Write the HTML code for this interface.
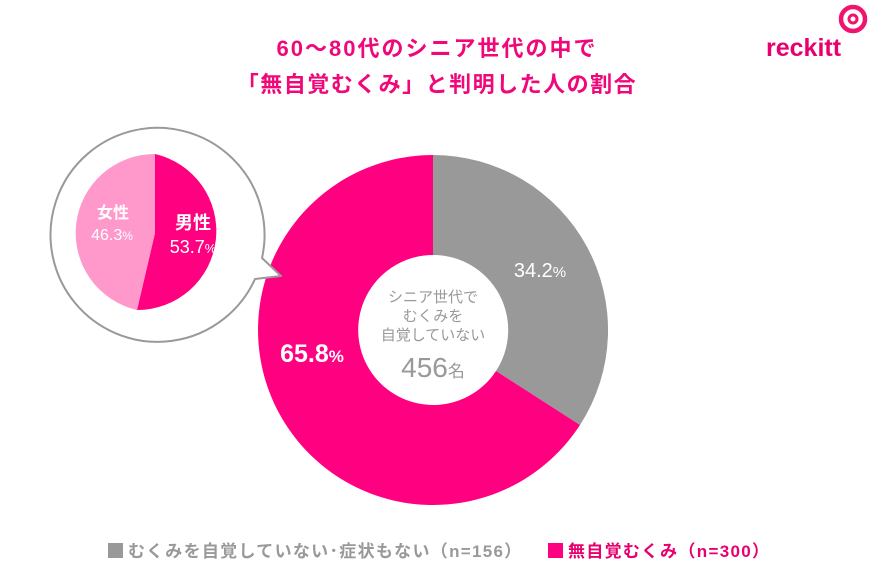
<!DOCTYPE html>
<html><head><meta charset="utf-8"><style>
body{margin:0;width:875px;height:566px;background:#fff;overflow:hidden;font-family:"Liberation Sans","Noto Sans CJK JP",sans-serif;}
</style></head><body>
<svg width="875" height="566" viewBox="0 0 875 566" xmlns="http://www.w3.org/2000/svg" font-family="Liberation Sans, Noto Sans CJK JP, sans-serif">
<text x="437" y="56" text-anchor="middle" font-size="22" font-weight="bold" fill="#f0087a" letter-spacing="2">60～80代のシニア世代の中で</text>
<text x="437" y="92" text-anchor="middle" font-size="22" font-weight="bold" fill="#f0087a" letter-spacing="1.5">「無自覚むくみ」と判明した人の割合</text>
<!-- logo -->
<text x="766" y="56" font-size="25" font-weight="bold" fill="#e8006f">reckitt</text>
<circle cx="853" cy="19" r="12" fill="none" stroke="#f0146e" stroke-width="4.5"/>
<circle cx="853" cy="19" r="4" fill="none" stroke="#f0146e" stroke-width="3"/>
<!-- main donut -->
<path d="M433 155 A175 175 0 0 1 580 425 L496 371 A75 75 0 0 0 433 255 Z" fill="#999999"/>
<path d="M580 425 A175 175 0 1 1 433 155 L433 255 A75 75 0 1 0 496 371 Z" fill="#ff0080"/>
<text x="540" y="277" text-anchor="middle" font-size="20" fill="#fff">34.2<tspan font-size="15">%</tspan></text>
<text x="312" y="362" text-anchor="middle" font-size="25" font-weight="bold" fill="#fff">65.8<tspan font-size="17">%</tspan></text>
<g fill="#999" text-anchor="middle" font-size="15">
<text x="433" y="302">シニア世代で</text>
<text x="433" y="321">むくみを</text>
<text x="433" y="340">自覚していない</text>
<text x="433" y="377" font-size="28">456<tspan font-size="17">名</tspan></text>
</g>
<!-- bubble -->
<path d="M262 258 A107 107 0 1 0 255 279 L281 276 Z" fill="#fff" stroke="#999" stroke-width="2" stroke-linejoin="round"/>
<path d="M155 154 A79 79 0 0 1 137 310 L155 233 Z" fill="#ff0080"/>
<path d="M137 310 A79 79 0 0 1 155 154 L155 233 Z" fill="#ff99cc"/>
<text x="113" y="218" text-anchor="middle" font-size="16" font-weight="bold" fill="#fff">女性</text>
<text x="112" y="240" text-anchor="middle" font-size="16" fill="#fff">46.3<tspan font-size="12">%</tspan></text>
<text x="193" y="229" text-anchor="middle" font-size="18" font-weight="bold" fill="#fff">男性</text>
<text x="193" y="253" text-anchor="middle" font-size="18" fill="#fff">53.7<tspan font-size="13">%</tspan></text>
<!-- legend -->
<rect x="108" y="543" width="15" height="15" fill="#999"/>
<text x="128" y="557" font-size="17" font-weight="bold" fill="#999" letter-spacing="1.3">むくみを自覚していない･症状もない（n=156）</text>
<rect x="548" y="543" width="15" height="15" fill="#ff0080"/>
<text x="568" y="557" font-size="17" font-weight="bold" fill="#e8006f" letter-spacing="1.3">無自覚むくみ（n=300）</text>
</svg>
</body></html>
